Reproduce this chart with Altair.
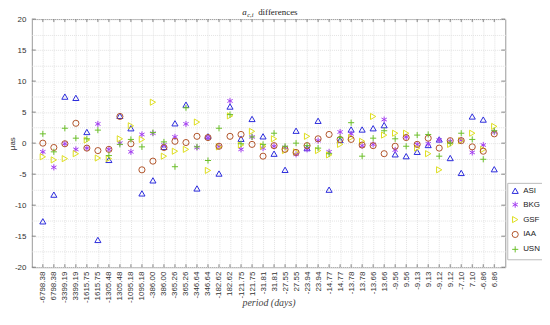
import altair as alt
import pandas as pd

periods = ["-6798.38", "6798.38", "-3399.19", "3399.19", "-1615.75", "1615.75",
           "-1305.48", "1305.48", "-1095.18", "1095.18", "-386.00", "386.00",
           "-365.26", "365.26", "-346.64", "346.64", "-182.62", "182.62",
           "-121.75", "121.75", "-31.81", "31.81", "-27.55", "27.55",
           "-23.94", "23.94", "-14.77", "14.77", "-13.78", "13.78",
           "-13.66", "13.66", "-9.56", "9.56", "-9.13", "9.13",
           "-9.12", "9.12", "-7.10", "7.10", "-6.86", "6.86"]

series = ["ASI", "BKG", "GSF", "IAA", "USN"]

asi = [-12.6, -8.3, 7.5, 7.3, 1.8, -15.6, -2.7, 4.4, 2.4, -8.1, -6.0, -0.6, 3.2, 6.2,
       -7.3, 1.1, -4.9, 5.9, 0.7, 3.9, 1.1, -1.7, -4.3, 2.0, -0.8, 3.6, -7.5, 0.5,
       2.2, 2.2, 2.4, 2.9, -1.8, -2.1, -1.4, -0.3, 0.6, -2.4, -4.8, 4.3, 3.8, -4.2]
bkg = [-1.4, -3.9, -0.1, -1.0, -0.8, 3.1, -1.0, 0.0, -1.4, 1.4, 1.6, -0.3, 1.0, 3.1,
       -0.7, 0.9, -0.5, 6.8, -1.0, 1.0, -0.8, -0.5, -0.7, -1.8, -1.0, 0.4, -1.4, 1.8,
       1.5, -0.4, -0.2, 3.8, -1.1, 1.0, -0.2, -0.1, 0.5, 0.3, 0.5, -1.5, -0.3, 1.8]
gsf = [-2.2, -2.7, -2.5, -1.7, 0.5, -2.4, -2.5, 0.7, 2.8, 0.6, 6.6, -2.1, -1.3, -1.0,
       3.4, -4.4, -0.6, 4.4, -0.3, 1.9, -0.5, 0.7, -1.2, -1.4, 1.1, -1.2, -1.9, -0.2,
       0.9, 0.3, 4.3, 1.3, 1.6, 1.6, -0.8, -1.7, -4.3, -0.2, 0.4, 1.6, -1.0, 2.7]
iaa = [0.0, -0.7, -0.1, 3.2, -0.8, -1.2, -1.0, 4.3, -0.1, -4.3, -2.9, -0.7, 0.3, 0.1,
       1.1, 0.9, -0.5, 1.1, 1.4, -0.2, -2.1, -0.4, -1.0, -1.5, -0.4, 0.7, 1.4, 0.6,
       0.6, -0.3, -0.4, -1.7, -0.5, 0.9, -0.2, 0.8, -0.8, 0.4, 0.4, -0.6, -1.3, 1.5]
usn = [1.5, -1.4, 2.4, 0.8, 0.7, 2.1, -2.0, -0.2, 0.6, -0.6, 1.7, 0.2, -3.8, 5.7,
       -0.6, -2.8, 2.4, 4.6, -0.1, 1.0, -0.2, 1.6, -0.5, 0.0, -0.4, -0.8, -1.7, 0.9,
       3.3, -2.1, 0.8, 2.0, 0.7, -0.5, 1.3, 1.4, -2.1, 0.0, 1.6, 0.6, -2.6, 2.0]

ytick_values = [-20, -15, -10, -5, 0, 5, 10, 15, 20]

colors = ["#2b2bdc", "#a23cf0", "#dede1e", "#b0552a", "#6cbf2a"]
shapes = ["triangle-up",
          "M0,-1L0,1M-0.87,-0.5L0.87,0.5M-0.87,0.5L0.87,-0.5",
          "triangle-right",
          "circle",
          "M-1,0L1,0M0,-1L0,1"]

rows = []
for name, vals in zip(series, [asi, bkg, gsf, iaa, usn]):
    for p, v in zip(periods, vals):
        rows.append({"period": p, "value": v, "series": name})
df = pd.DataFrame(rows)

W, H = 477, 250
SANS = "Liberation Sans"
SERIF = "Liberation Serif"

xscale = alt.Scale(type="point", padding=1, domain=periods)
yscale = alt.Scale(domain=[-20, 20], nice=False)

x_axis = alt.Axis(labelAngle=270, labelFontSize=8, labelFont=SANS, labelColor="#333",
                  labelPadding=4, ticks=False, domain=False,
                  grid=True, gridColor="#e2e2e2", gridDash=[1, 1],
                  title="period (days)", titleFont=SERIF, titleFontStyle="italic",
                  titleFontWeight="normal", titleFontSize=10, titleColor="#444",
                  titleY=36, titleBaseline="middle")
y_axis = alt.Axis(values=[-20 + 2.5 * i for i in range(17)],
                  labelExpr="datum.value % 5 == 0 ? '' + datum.value : ''",
                  labelFontSize=8, labelFont=SANS, labelColor="#333", labelPadding=6,
                  ticks=False, domain=False,
                  grid=True, gridColor="#e2e2e2", gridDash=[1, 1],
                  title="μas", titleFont=SANS, titleFontWeight="normal",
                  titleFontSize=8, titleColor="#333", titleAngle=270,
                  titleX=-19, titleY=H / 2, titleBaseline="middle", titleAlign="center")

X = alt.X("period:N", sort=periods, scale=xscale, axis=x_axis)
Y = alt.Y("value:Q", scale=yscale, axis=y_axis)

points = alt.Chart(df).mark_point(filled=False, size=38, strokeWidth=1, opacity=1).encode(
    x=X,
    y=Y,
    color=alt.Color("series:N", scale=alt.Scale(domain=series, range=colors),
                    legend=alt.Legend(title=None, orient="none", legendX=W + 2, legendY=165,
                                      labelFont=SANS, labelFontSize=8, labelColor="#222",
                                      symbolSize=38, symbolStrokeWidth=1,
                                      rowPadding=3, padding=4,
                                      strokeColor="#bbb", fillColor="white")),
    shape=alt.Shape("series:N", scale=alt.Scale(domain=series, range=shapes),
                    legend=alt.Legend(title=None)),
)

tick_df = pd.DataFrame({"period": periods})
xt_bottom = alt.Chart(tick_df).mark_rule(color="#666", strokeWidth=0.8).encode(
    x=X, y=alt.value(H), y2=alt.value(H - 3))
xt_top = alt.Chart(tick_df).mark_rule(color="#666", strokeWidth=0.8).encode(
    x=X, y=alt.value(0), y2=alt.value(3))

yt_df = pd.DataFrame({"value": ytick_values})
yt_left = alt.Chart(yt_df).mark_rule(color="#666", strokeWidth=0.8).encode(
    y=Y, x=alt.value(0), x2=alt.value(4))
yt_right = alt.Chart(yt_df).mark_rule(color="#666", strokeWidth=0.8).encode(
    y=Y, x=alt.value(W), x2=alt.value(W - 4))

t_a = alt.Chart(pd.DataFrame({"t": ["a"]})).mark_text(
    font=SERIF, fontStyle="italic", fontSize=9, align="left", baseline="alphabetic", color="#222"
).encode(text="t:N", x=alt.value(212), y=alt.value(-4))
t_sub = alt.Chart(pd.DataFrame({"t": ["c,i"]})).mark_text(
    font=SERIF, fontStyle="italic", fontSize=6.5, align="left", baseline="alphabetic", color="#222"
).encode(text="t:N", x=alt.value(217), y=alt.value(-2))
t_rest = alt.Chart(pd.DataFrame({"t": ["differences"]})).mark_text(
    font=SERIF, fontSize=9, align="left", baseline="alphabetic", color="#222"
).encode(text="t:N", x=alt.value(228), y=alt.value(-4))

chart = alt.layer(points, xt_bottom, xt_top, yt_left, yt_right, t_a, t_sub, t_rest).properties(
    width=W, height=H,
    autosize=alt.AutoSizeParams(type="none"),
    padding={"left": 24, "top": 10, "right": 37, "bottom": 49},
).configure_view(stroke="#999", strokeWidth=1).resolve_scale(shape="shared", color="shared")

chart.save("out.html", embed_options={"renderer": "svg", "actions": False})
